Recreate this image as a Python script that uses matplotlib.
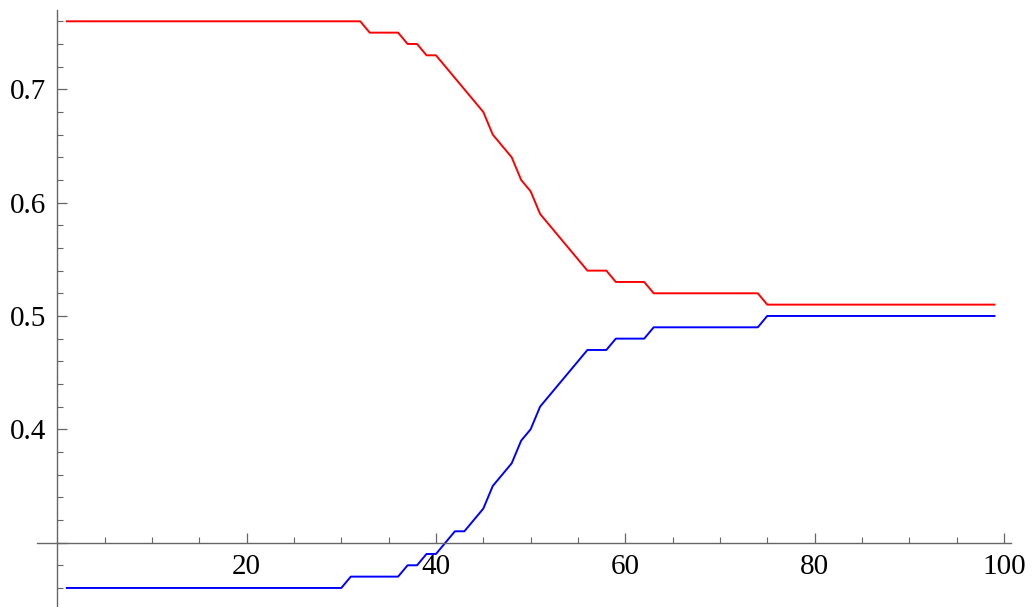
import numpy as np
import matplotlib
matplotlib.use("Agg")
import matplotlib.pyplot as plt
from matplotlib.ticker import FixedLocator

# data, x = 1..99
x = np.arange(1, 100)

red = ([0.76] * 32 + [0.75] * 4 + [0.74] * 2 + [0.73] * 2
       + [0.72, 0.71, 0.70, 0.69, 0.68, 0.66, 0.65, 0.64, 0.62, 0.61,
          0.59, 0.58, 0.57, 0.56, 0.55, 0.54]
       + [0.54] * 2 + [0.53] * 4 + [0.52] * 12 + [0.51] * 25)

blue = ([0.26] * 30 + [0.27] * 6 + [0.28] * 2 + [0.29] * 2
        + [0.30, 0.31, 0.31, 0.32, 0.33, 0.35, 0.36, 0.37, 0.39, 0.40,
           0.42, 0.43, 0.44, 0.45, 0.46, 0.47]
        + [0.47] * 2 + [0.48] * 4 + [0.49] * 12 + [0.50] * 25)

x_major = [20, 40, 60, 80, 100]
y_major = [0.3, 0.4, 0.5, 0.6, 0.7]
y_labels = ["", "0.4", "0.5", "0.6", "0.7"]

plt.rcParams['font.family'] = ['Liberation Serif', 'DejaVu Serif']

fig = plt.figure(figsize=(10.34, 6.07), dpi=100)
ax = fig.add_axes([0, 0, 1, 1])

ax.plot(x, red, color='#ff0000', lw=1.4)
ax.plot(x, blue, color='#0000ff', lw=1.4)

ax.set_xlim(-6.06, 103.18)
ax.set_ylim(0.2432, 0.7788)

axis_col = '#666666'
for s in ['top', 'right']:
    ax.spines[s].set_visible(False)
ax.spines['left'].set_position(('data', 0))
ax.spines['bottom'].set_position(('data', 0.3))
ax.spines['left'].set_bounds(0.2432, 0.77)
ax.spines['bottom'].set_bounds(-2.1, 100.8)
for s in ['left', 'bottom']:
    ax.spines[s].set_color(axis_col)
    ax.spines[s].set_linewidth(1.0)

ax.xaxis.set_major_locator(FixedLocator(x_major))
ax.xaxis.set_minor_locator(FixedLocator([v for v in range(5, 100, 5) if v % 20]))
ax.yaxis.set_major_locator(FixedLocator(y_major))
y_minor = [round(0.26 + 0.02 * i, 2) for i in range(26)]
ax.yaxis.set_minor_locator(FixedLocator([v for v in y_minor if v not in y_major]))
ax.set_yticklabels(y_labels)

ax.tick_params(which='major', direction='in', length=7.5, width=0.9, color=axis_col,
               labelsize=21, labelcolor='black')
ax.tick_params(which='minor', direction='in', length=4.5, width=0.8, color=axis_col)
ax.tick_params(axis='y', which='major', pad=8)
ax.tick_params(axis='x', which='major', pad=8)

fig.savefig('out.png', dpi=100)
